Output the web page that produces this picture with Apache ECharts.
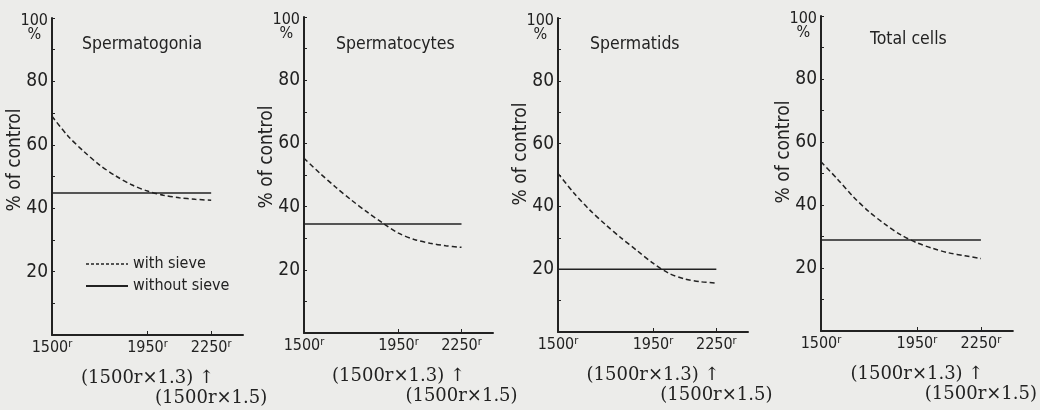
<!DOCTYPE html>
<html>
<head>
<meta charset="UTF-8">
<title>% of control</title>
<script src="https://cdn.jsdelivr.net/npm/echarts@6.0.0/dist/echarts.min.js"></script>
<style>
    html, body { margin: 0; padding: 0; background: #ececea; }
    #chart { width: 1040px; height: 410px; }
</style>
</head>
<body>
<div id="chart"></div>
<script>
// data
const titles = ['Spermatogonia', 'Spermatocytes', 'Spermatids', 'Total cells'];
const doses = [1500, 1575, 1650, 1725, 1800, 1875, 1950, 2025, 2100, 2175, 2250];
const withSieve = [
    [69, 62.8, 57.9, 53.6, 50.2, 47.4, 45.4, 44.1, 43.3, 42.8, 42.5],
    [55.3, 50.6, 46.2, 42.1, 38.3, 34.8, 31.6, 29.6, 28.4, 27.6, 27.1],
    [50.5, 44.3, 38.9, 34.2, 29.9, 25.9, 21.9, 18.7, 16.9, 16.0, 15.6],
    [53.7, 48.4, 42.7, 37.9, 33.9, 30.5, 28.0, 26.2, 24.8, 23.9, 23.0]
];
const withoutSieve = [44.8, 34.5, 20, 28.9];
const xTicks = [1500, 1950, 2250];
const yTicks = [20, 40, 60, 80, 100];
const subLabel13 = '(1500r\u00d71.3) \u2191';
const subLabel15 = '(1500r\u00d71.5)';

// panel boxes (px)
const panels = [
    { left: 52, top: 18, width: 191, height: 317, titleLeft: 82, titleTop: 35, nameShift: 33 },
    { left: 304, top: 17, width: 189, height: 316, titleLeft: 336, titleTop: 35, nameShift: 36 },
    { left: 558, top: 18, width: 190, height: 314, titleLeft: 590, titleTop: 35, nameShift: 42 },
    { left: 821, top: 16, width: 192, height: 315, titleLeft: 870, titleTop: 30, nameShift: 43 }
];

const sans = '"DejaVu Sans Condensed", "DejaVu Sans", sans-serif';
const serif = '"DejaVu Serif", "Liberation Serif", serif';
const ink = '#222';

const chart = echarts.init(document.getElementById('chart'));

const grid = [], xAxis = [], yAxis = [], series = [], title = [];

panels.forEach((p, i) => {
    grid.push({ left: p.left, top: p.top, width: p.width, height: p.height });

    title.push({
        text: titles[i], left: p.titleLeft, top: p.titleTop, padding: 0,
        textStyle: { fontFamily: sans, fontSize: 17.5, fontWeight: 'normal', color: ink }
    });

    // main x axis
    xAxis.push({
        gridIndex: i, type: 'value', min: 1500, max: 2400,
        axisLine: { lineStyle: { color: ink, width: 2 } },
        axisTick: { show: true, inside: true, length: 4, customValues: [1950, 2250], lineStyle: { color: ink } },
        axisLabel: {
            customValues: xTicks, margin: 4, color: ink,
            formatter: v => '{n|' + v + '}{r|r}',
            rich: {
                n: { fontFamily: sans, fontSize: 16, lineHeight: 18, color: ink },
                r: { fontFamily: sans, fontSize: 11, lineHeight: 11, verticalAlign: 'top', color: ink }
            }
        },
        splitLine: { show: false }
    });
    // second row of labels
    xAxis.push({
        gridIndex: i, type: 'value', min: 1500, max: 2400, position: 'bottom', offset: 33,
        axisLine: { show: false }, axisTick: { show: false }, splitLine: { show: false },
        axisLabel: {
            customValues: [1950], margin: 0, color: ink, fontFamily: serif, fontSize: 18, lineHeight: 20,
            formatter: () => subLabel13
        }
    });
    // third row
    xAxis.push({
        gridIndex: i, type: 'value', min: 1500, max: 2400, position: 'bottom', offset: 53,
        axisLine: { show: false }, axisTick: { show: false }, splitLine: { show: false },
        axisLabel: {
            customValues: [2250], margin: 0, color: ink, fontFamily: serif, fontSize: 18, lineHeight: 20,
            formatter: () => subLabel15
        }
    });

    yAxis.push({
        gridIndex: i, type: 'value', min: 0, max: 100, interval: 10,
        name: '% of control', nameLocation: 'middle', nameGap: 27, nameRotate: 90,
        nameMoveOverlap: false,
        nameTextStyle: { fontFamily: sans, fontSize: 19, color: ink, padding: [0, 0, 0, p.nameShift] },
        axisLine: { show: true, lineStyle: { color: ink, width: 2 } },
        axisTick: { show: true, inside: true, length: 3, lineStyle: { color: ink } },
        axisLabel: {
            customValues: yTicks, margin: 4, color: ink, fontFamily: sans, fontSize: 19,
            formatter: v => v === 100 ? '{sp| }\n{h|100}\n{pc|%}' : String(v),
            rich: {
                sp: { fontSize: 2, lineHeight: 20 },
                h: { fontSize: 16, lineHeight: 14, fontFamily: sans, color: ink },
                pc: { fontSize: 16, lineHeight: 14, fontFamily: sans, color: ink, align: 'center' }
            }
        },
        splitLine: { show: false }
    });

    series.push({
        name: 'with sieve', type: 'line', xAxisIndex: 3 * i, yAxisIndex: i,
        data: doses.map((d, j) => [d, withSieve[i][j]]),
        smooth: 0.3, symbol: 'none', silent: true,
        itemStyle: { color: ink },
        lineStyle: { color: ink, width: 1.5, type: [5, 3] }
    });
    series.push({
        name: 'without sieve', type: 'line', xAxisIndex: 3 * i, yAxisIndex: i,
        data: [[1500, withoutSieve[i]], [2250, withoutSieve[i]]],
        symbol: 'none', silent: true,
        itemStyle: { color: ink },
        lineStyle: { color: ink, width: 1.6, type: 'solid' }
    });
});

chart.setOption({
    animation: false,
    backgroundColor: '#ececea',
    title: title,
    legend: {
        left: 85, top: 256, orient: 'vertical', padding: 0,
        itemWidth: 42, itemHeight: 14, itemGap: 6, selectedMode: false,
        itemStyle: { opacity: 0 },
        textStyle: { fontFamily: sans, fontSize: 16, color: ink },
        data: [
            { name: 'with sieve', lineStyle: { type: [3, 2], width: 1.3 } },
            { name: 'without sieve' }
        ]
    },
    grid: grid,
    xAxis: xAxis,
    yAxis: yAxis,
    series: series
});
</script>
</body>
</html>
